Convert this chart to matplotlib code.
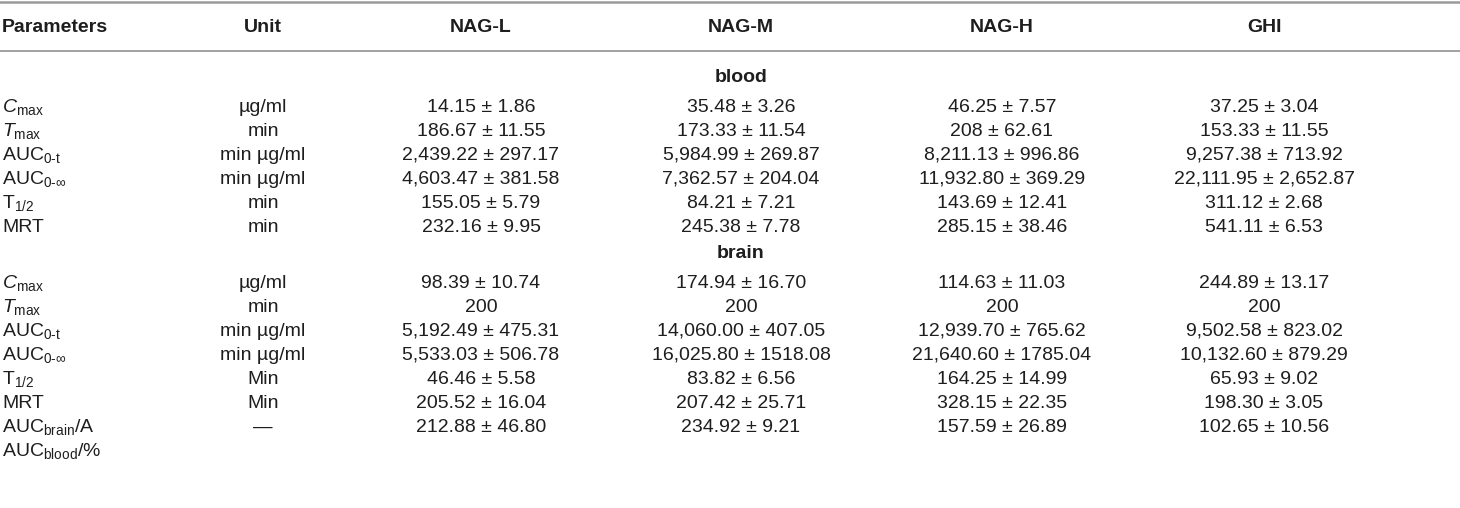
import matplotlib.pyplot as plt

plt.rcParams['font.family'] = ['Liberation Sans', 'DejaVu Sans']
plt.rcParams['mathtext.fontset'] = 'custom'
plt.rcParams['mathtext.rm'] = 'Liberation Sans'
plt.rcParams['mathtext.it'] = 'Liberation Sans:italic'
plt.rcParams['mathtext.bf'] = 'Liberation Sans:bold'

headers = ['Parameters', 'Unit', 'NAG-L', 'NAG-M', 'NAG-H', 'GHI']

params = [r'$\mathit{C}_{\mathrm{max}}$', r'$\mathit{T}_{\mathrm{max}}$',
          r'AUC$_{\mathrm{0\text{-}t}}$', r'AUC$_{\mathrm{0\text{-}\infty}}$',
          r'T$_{\mathrm{1/2}}$', 'MRT']

blood_units = ['µg/ml', 'min', 'min µg/ml', 'min µg/ml', 'min', 'min']
blood_nagl = ['14.15 ± 1.86', '186.67 ± 11.55', '2,439.22 ± 297.17',
              '4,603.47 ± 381.58', '155.05 ± 5.79', '232.16 ± 9.95']
blood_nagm = ['35.48 ± 3.26', '173.33 ± 11.54', '5,984.99 ± 269.87',
              '7,362.57 ± 204.04', '84.21 ± 7.21', '245.38 ± 7.78']
blood_nagh = ['46.25 ± 7.57', '208 ± 62.61', '8,211.13 ± 996.86',
              '11,932.80 ± 369.29', '143.69 ± 12.41', '285.15 ± 38.46']
blood_ghi = ['37.25 ± 3.04', '153.33 ± 11.55', '9,257.38 ± 713.92',
             '22,111.95 ± 2,652.87', '311.12 ± 2.68', '541.11 ± 6.53']

brain_units = ['µg/ml', 'min', 'min µg/ml', 'min µg/ml', 'Min', 'Min', '—']
brain_nagl = ['98.39 ± 10.74', '200', '5,192.49 ± 475.31',
              '5,533.03 ± 506.78', '46.46 ± 5.58', '205.52 ± 16.04',
              '212.88 ± 46.80']
brain_nagm = ['174.94 ± 16.70', '200', '14,060.00 ± 407.05',
              '16,025.80 ± 1518.08', '83.82 ± 6.56', '207.42 ± 25.71',
              '234.92 ± 9.21']
brain_nagh = ['114.63 ± 11.03', '200', '12,939.70 ± 765.62',
              '21,640.60 ± 1785.04', '164.25 ± 14.99', '328.15 ± 22.35',
              '157.59 ± 26.89']
brain_ghi = ['244.89 ± 13.17', '200', '9,502.58 ± 823.02',
             '10,132.60 ± 879.29', '65.93 ± 9.02', '198.30 ± 3.05',
             '102.65 ± 10.56']
ratio_label = [r'AUC$_{\mathrm{brain}}$/A', r'AUC$_{\mathrm{blood}}$/%']

W, H = 1460, 508
fig = plt.figure(figsize=(W / 100, H / 100), dpi=100)
ax = fig.add_axes([0, 0, 1, 1])
ax.set_xlim(0, W)
ax.set_ylim(H, 0)
ax.axis('off')

txt = '#1e1e1e'
fs = 14
col_x = [2, 263, 481, 741, 1002, 1264]

ax.plot([0, W], [1.5, 1.5], color='#9a9a9a', lw=1.8)
ax.plot([0, W], [51, 51], color='#9a9a9a', lw=1.3)

for i, h in enumerate(headers):
    ax.text(col_x[i], 27, h, ha='left' if i == 0 else 'center', va='center',
            fontsize=fs, fontweight='bold', color=txt)


def block(y0, units, cols, labels):
    for r, u in enumerate(units):
        y = y0 + r * 24
        ax.text(col_x[0], y, labels[r], ha='left', va='center', fontsize=fs, color=txt)
        ax.text(col_x[1], y, u, ha='center', va='center', fontsize=fs, color=txt)
        for c, vals in enumerate(cols):
            ax.text(col_x[c + 2], y, vals[r], ha='center', va='center', fontsize=fs, color=txt)


ax.text(col_x[3], 78, 'blood', ha='center', va='center', fontsize=fs,
        fontweight='bold', color=txt)
block(107, blood_units, [blood_nagl, blood_nagm, blood_nagh, blood_ghi], params)

ax.text(col_x[3], 254, 'brain', ha='center', va='center', fontsize=fs,
        fontweight='bold', color=txt)
block(283, brain_units, [brain_nagl, brain_nagm, brain_nagh, brain_ghi],
      params + [ratio_label[0]])
ax.text(col_x[0], 283 + 7 * 24, ratio_label[1], ha='left', va='center',
        fontsize=fs, color=txt)

fig.savefig('out.png', dpi=100)
